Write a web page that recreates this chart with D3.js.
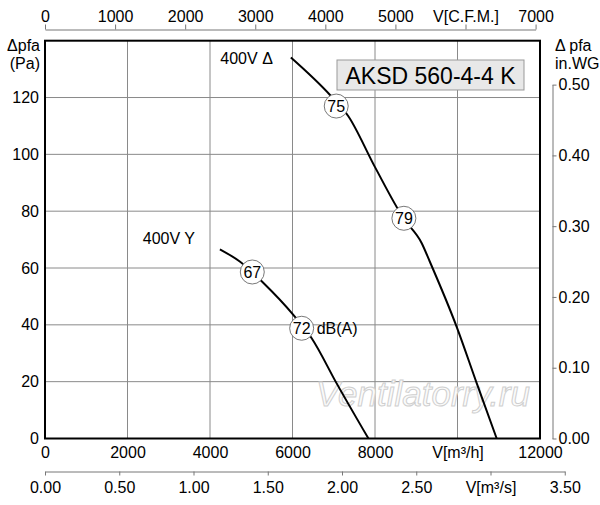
<!DOCTYPE html>
<html>
<head>
<meta charset="utf-8">
<script src="https://cdn.jsdelivr.net/npm/d3@7"></script>
<style>
  body { margin: 0; background: #fff; }
  svg text { font-family: "Liberation Sans", Arial, Helvetica, sans-serif; fill: #000; }
</style>
</head>
<body>
<svg id="chart" width="600" height="505"></svg>
<script>
// fan curves, airflow in m3/h, static pressure in Pa
const curveDelta = [[5960, 134.1], [6910, 120.9], [7350, 113.5], [8000, 95.5], [8700, 77.3],
    [9130, 68.8], [9330, 62.2], [9980, 39.3], [10465, 19.5], [10950, 0]];
const curveStar = [[4240, 66.6], [4730, 62.2], [5290, 54.8], [6020, 43.5], [6465, 35.3],
    [7070, 19.4], [7840, 0]];

// sound level markers dB(A)
const markersDelta = [[7060, 117, "75"], [8700, 77.5, "79"]];
const markersStar = [[5025, 58.6, "67"], [6222, 38.8, "72"]];

// tick values
const flowTicks = [0, 2000, 4000, 6000, 8000, 10000, 12000];
const paTicks = [0, 20, 40, 60, 80, 100, 120];
const cfmTicks = [0, 1000, 2000, 3000, 4000, 5000, 6000, 7000];
const m3sTicks = [0, 0.5, 1, 1.5, 2, 2.5, 3, 3.5];
const inwgTicks = [0, 0.1, 0.2, 0.3, 0.4, 0.5];

const svg = d3.select("#chart");
const plotL = 45, plotR = 540, plotT = 40.7, plotB = 438.5;

const x = d3.scaleLinear().domain([0, 12000]).range([plotL, plotR]);
const y = d3.scaleLinear().domain([0, 140]).range([plotB, plotT]);

// grid
svg.append("g").selectAll("line")
    .data(flowTicks.slice(1, -1))
    .join("line")
    .attr("x1", d => x(d)).attr("x2", d => x(d))
    .attr("y1", plotT).attr("y2", plotB)
    .attr("stroke", "#8a8a8a").attr("stroke-width", 1);

svg.append("g").selectAll("line")
    .data(paTicks.slice(1))
    .join("line")
    .attr("x1", plotL).attr("x2", plotR)
    .attr("y1", d => y(d)).attr("y2", d => y(d))
    .attr("stroke", "#8a8a8a").attr("stroke-width", 1);

// frame
svg.append("rect")
    .attr("x", plotL).attr("y", plotT)
    .attr("width", plotR - plotL).attr("height", plotB - plotT)
    .attr("fill", "none").attr("stroke", "#000").attr("stroke-width", 2);

function styleAxis(g) {
    g.selectAll("text").style("font-size", "16px")
        .style("font-family", "'Liberation Sans', Arial, sans-serif").attr("fill", "#000");
    g.selectAll("line, path").attr("stroke", "#777");
}

// left axis Pa
const yAxis = svg.append("g")
    .attr("transform", `translate(${plotL - 2},0)`)
    .call(d3.axisLeft(y).tickValues(paTicks).tickSize(0).tickPadding(4));
yAxis.select(".domain").remove();
styleAxis(yAxis);

// bottom axis m3/h
const xAxis = svg.append("g")
    .attr("transform", `translate(0,${plotB + 2})`)
    .call(d3.axisBottom(x).tickValues(flowTicks).tickSize(0).tickPadding(6)
        .tickFormat(d => d === 10000 ? "V[m³/h]" : d));
xAxis.select(".domain").remove();
styleAxis(xAxis);

// top axis CFM
const cfm = d3.scaleLinear().domain([0, 7000]).range([plotL, x(7000 * 1.699)]);
const cfmAxis = svg.append("g")
    .attr("transform", "translate(0,29.5)")
    .call(d3.axisTop(cfm).tickValues(cfmTicks).tickSize(5).tickSizeOuter(0).tickPadding(3)
        .tickFormat(d => d === 6000 ? "V[C.F.M.]" : d));
styleAxis(cfmAxis);

// bottom axis m3/s
const m3s = d3.scaleLinear().domain([0, 3.5]).range([plotL, x(3.5 * 3600)]);
const m3sAxis = svg.append("g")
    .attr("transform", "translate(0,471.5)")
    .call(d3.axisBottom(m3s).tickValues(m3sTicks).tickSize(4).tickSizeOuter(0).tickPadding(6)
        .tickFormat(d => d === 3 ? "V[m³/s]" : d3.format(".2f")(d)));
styleAxis(m3sAxis);

// right axis in.WG
const inwg = d3.scaleLinear().domain([0, 0.5]).range([y(0), y(0.5 * 249.089)]);
const wgAxis = svg.append("g")
    .attr("transform", "translate(552.5,0)")
    .call(d3.axisRight(inwg).tickValues(inwgTicks).tickSize(4).tickSizeOuter(0).tickPadding(2)
        .tickFormat(d3.format(".2f")));
styleAxis(wgAxis);

// axis titles
svg.append("text").attr("x", 40).attr("y", 51).attr("text-anchor", "end")
    .style("font-size", "16px").text("Δpfa");
svg.append("text").attr("x", 40).attr("y", 69).attr("text-anchor", "end")
    .style("font-size", "16px").text("(Pa)");
svg.append("text").attr("x", 555).attr("y", 51)
    .style("font-size", "16px").text("Δ pfa");
svg.append("text").attr("x", 555).attr("y", 69)
    .style("font-size", "16px").text("in.WG");

// watermark
svg.append("text")
    .attr("x", 423).attr("y", 406).attr("text-anchor", "middle")
    .style("font-size", "35px").style("font-style", "italic")
    .attr("stroke", "#cfcfcf").attr("stroke-width", 1)
    .style("fill", "#fbfbfb")
    .text("Ventilatorry.ru");

// model box
svg.append("rect")
    .attr("x", 337).attr("y", 60).attr("width", 187).attr("height", 30)
    .attr("fill", "#e8e8e8").attr("stroke", "#999").attr("stroke-width", 1);
svg.append("text")
    .attr("x", 430.5).attr("y", 83.5).attr("text-anchor", "middle")
    .style("font-size", "23px").text("AKSD 560-4-4 K");

// curves
const line = d3.line().x(d => x(d[0])).y(d => y(d[1])).curve(d3.curveMonotoneX);
[curveDelta, curveStar].forEach(c => {
    svg.append("path").datum(c)
        .attr("d", line)
        .attr("fill", "none").attr("stroke", "#000").attr("stroke-width", 2);
});

// markers
const marks = svg.append("g").selectAll("g")
    .data(markersDelta.concat(markersStar))
    .join("g")
    .attr("transform", d => `translate(${x(d[0])},${y(d[1])})`);
marks.append("circle").attr("r", 12)
    .attr("fill", "#fff").attr("stroke", "#555").attr("stroke-width", 0.8);
marks.append("text").attr("text-anchor", "middle").attr("dy", "0.36em")
    .style("font-size", "16px").text(d => d[2]);

svg.append("text")
    .attr("x", x(6222) + 15).attr("y", y(38.8)).attr("dy", "0.36em")
    .style("font-size", "16px").text("dB(A)");

// curve labels
svg.append("text").attr("x", x(4250)).attr("y", y(134)).attr("dy", "0.36em")
    .style("font-size", "16px").text("400V Δ");
svg.append("text").attr("x", x(2370)).attr("y", y(70.5)).attr("dy", "0.36em")
    .style("font-size", "16px").text("400V Y");
</script>
</body>
</html>
